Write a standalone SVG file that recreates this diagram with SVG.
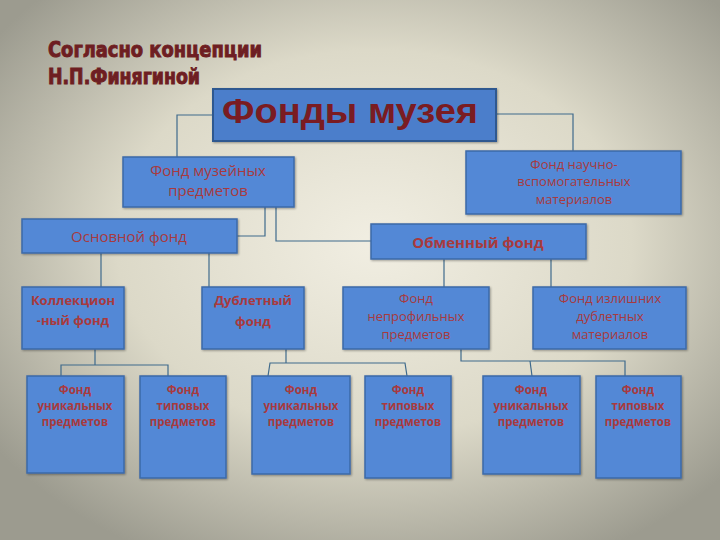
<svg xmlns="http://www.w3.org/2000/svg" width="720" height="540" viewBox="0 0 720 540">
<defs>
<radialGradient id="bg" cx="0.52" cy="0.45" r="0.65">
<stop offset="0" stop-color="#f1eee2"/>
<stop offset="0.55" stop-color="#dcd9c8"/>
<stop offset="1" stop-color="#9c9b8f"/>
</radialGradient>
<filter id="sh" x="-10%" y="-10%" width="130%" height="130%">
<feDropShadow dx="1" dy="1" stdDeviation="1" flood-color="#000" flood-opacity="0.35"/>
</filter>
</defs>
<style>
.box{fill:#5288d6;stroke:#3d6aa8;stroke-width:1.5;filter:url(#sh)}
.main{fill:#4b7ecb;stroke:#2f5890;stroke-width:2;filter:url(#sh)}
.ln{fill:none;stroke:#3f6a8c;stroke-width:1.2}
.t{font-family:"Open Sans","Noto Sans","DejaVu Sans",sans-serif;fill:#a83a3e;text-anchor:middle}
.tm{font-size:15px}
.ts{font-size:13px;font-weight:bold}
.tb{font-size:11.5px;font-weight:bold}
.title{font-family:"DejaVu Sans Condensed","DejaVu Sans",sans-serif;font-stretch:condensed;font-weight:bold;fill:#6e1e22;stroke:#6e1e22;stroke-width:0.9;font-size:21px}
</style>
<rect x="0" y="0" width="720" height="540" fill="url(#bg)"/>
<g id="title">
<text class="title" x="48" y="57" textLength="214" lengthAdjust="spacingAndGlyphs">Согласно концепции</text>
<text class="title" x="48" y="84" textLength="152" lengthAdjust="spacingAndGlyphs">Н.П.Финягиной</text>
</g>
<g id="connectors">
<polyline class="ln" points="213,115 177,115 177,157"/>
<polyline class="ln" points="496,114 573,114 573,151"/>
<polyline class="ln" points="265,207 265,236 237,236"/>
<polyline class="ln" points="276,207 276,241 371,241"/>
<line class="ln" x1="101" y1="253" x2="101" y2="287"/>
<line class="ln" x1="209" y1="253" x2="209" y2="287"/>
<line class="ln" x1="444" y1="259" x2="444" y2="287"/>
<line class="ln" x1="551" y1="259" x2="551" y2="287"/>
<polyline class="ln" points="95,349 95,365"/>
<polyline class="ln" points="61,376 61,365 168,365 168,376"/>
<polyline class="ln" points="286,349 286,363"/>
<polyline class="ln" points="268,376 270,363 405,363 407,376"/>
<polyline class="ln" points="461,349 461,361 625,361 625,376"/>
<polyline class="ln" points="530,361 532,376"/>
</g>
<g id="n-main">
<rect class="main" x="213" y="89" width="283" height="52"/>
<text x="350" y="123" font-family="'Liberation Sans',Arial,sans-serif" font-weight="bold" font-size="35" fill="#7a1c22" text-anchor="middle" textLength="256" lengthAdjust="spacingAndGlyphs">Фонды музея</text>
</g>
<g id="n-muz">
<rect class="box" x="123" y="157" width="171" height="50"/>
<text class="t tm" x="208" y="176">Фонд музейных</text>
<text class="t tm" x="208" y="196">предметов</text>
</g>
<g id="n-nauch">
<rect class="box" x="466" y="151" width="215" height="63"/>
<text class="t" font-size="13" x="574" y="169">Фонд научно-</text>
<text class="t" font-size="13" x="574" y="186">вспомогательных</text>
<text class="t" font-size="13" x="574" y="204">материалов</text>
</g>
<g id="n-osn">
<rect class="box" x="22" y="219" width="215" height="34"/>
<text class="t tm" x="129" y="242">Основной фонд</text>
</g>
<g id="n-obm">
<rect class="box" x="371" y="224" width="215" height="35"/>
<text class="t tm" x="478" y="248" font-weight="bold">Обменный фонд</text>
</g>
<g id="n-koll">
<rect class="box" x="22" y="287" width="102" height="62"/>
<text class="t ts" x="73" y="305">Коллекцион</text>
<text class="t ts" x="73" y="325">-ный фонд</text>
</g>
<g id="n-dubl">
<rect class="box" x="202" y="287" width="102" height="62"/>
<text class="t ts" x="253" y="305">Дублетный</text>
<text class="t ts" x="253" y="326">фонд</text>
</g>
<g id="n-neprof">
<rect class="box" x="343" y="287" width="146" height="62"/>
<text class="t" font-size="13" x="416" y="303">Фонд</text>
<text class="t" font-size="13" x="416" y="321">непрофильных</text>
<text class="t" font-size="13" x="416" y="339">предметов</text>
</g>
<g id="n-izl">
<rect class="box" x="533" y="287" width="153" height="62"/>
<text class="t" font-size="13" x="610" y="303">Фонд излишних</text>
<text class="t" font-size="13" x="610" y="321">дублетных</text>
<text class="t" font-size="13" x="610" y="339">материалов</text>
</g>
<g id="n-b1">
<rect class="box" x="27" y="376" width="97" height="97"/>
<text class="t tb" x="75" y="394">Фонд</text>
<text class="t tb" x="75" y="410">уникальных</text>
<text class="t tb" x="75" y="426">предметов</text>
</g>
<g id="n-b2">
<rect class="box" x="140" y="376" width="86" height="102"/>
<text class="t tb" x="183" y="394">Фонд</text>
<text class="t tb" x="183" y="410">типовых</text>
<text class="t tb" x="183" y="426">предметов</text>
</g>
<g id="n-b3">
<rect class="box" x="252" y="376" width="98" height="98"/>
<text class="t tb" x="301" y="394">Фонд</text>
<text class="t tb" x="301" y="410">уникальных</text>
<text class="t tb" x="301" y="426">предметов</text>
</g>
<g id="n-b4">
<rect class="box" x="365" y="376" width="86" height="102"/>
<text class="t tb" x="408" y="394">Фонд</text>
<text class="t tb" x="408" y="410">типовых</text>
<text class="t tb" x="408" y="426">предметов</text>
</g>
<g id="n-b5">
<rect class="box" x="483" y="376" width="97" height="98"/>
<text class="t tb" x="531" y="394">Фонд</text>
<text class="t tb" x="531" y="410">уникальных</text>
<text class="t tb" x="531" y="426">предметов</text>
</g>
<g id="n-b6">
<rect class="box" x="596" y="376" width="85" height="102"/>
<text class="t tb" x="638" y="394">Фонд</text>
<text class="t tb" x="638" y="410">типовых</text>
<text class="t tb" x="638" y="426">предметов</text>
</g>
</svg>
